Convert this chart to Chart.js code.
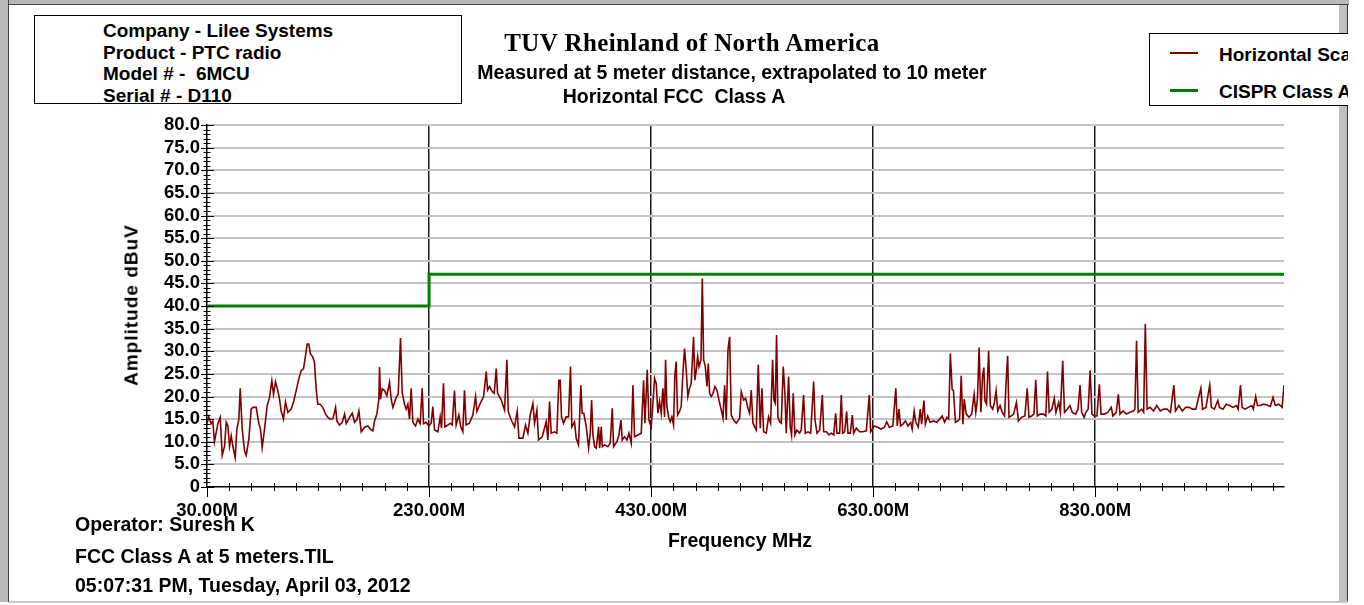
<!DOCTYPE html>
<html>
<head>
<meta charset="utf-8">
<script src="https://cdn.jsdelivr.net/npm/chart.js@4.4.1/dist/chart.umd.min.js"></script>
<style>
  body { margin: 0; width: 1364px; height: 605px; overflow: hidden; position: relative; background: #fff;
         font-family: "Liberation Sans", Arial, sans-serif; font-weight: bold; color: #000; }
  .abs { position: absolute; white-space: pre; line-height: 1; }
  .lbl { font-size: 19.5px; }
  .info { font-size: 19px; }
  #chart { position: absolute; left: 0; top: 0; }
  #info { position: absolute; left: 34px; top: 15px; width: 426px; height: 87px; border: 1px solid #000; overflow: hidden; background: #fff; }
  #legendClip { position: absolute; left: 1149px; top: 33px; width: 199px; height: 73px; overflow: hidden; }
  #legend { position: absolute; left: 0; top: 0; width: 260px; height: 71px; border: 1px solid #000; background: #fff; }
  .swatch { position: absolute; left: 20px; width: 28px; }
</style>
</head>
<body>
<div class="abs" style="left:0;top:0;width:1349px;height:4px;background:#b9b9b9;border-bottom:1px solid #444"></div>
<div class="abs" style="left:0;top:0;width:8px;height:602px;background:#b9b9b9;border-right:1px solid #444"></div>
<div class="abs" style="left:1339px;top:5px;width:8px;height:597px;background:#c0c0c0;border-right:1px solid #333"></div>
<div class="abs" style="left:9px;top:601px;width:1339px;height:2px;background:#c8c8c8"></div>

<canvas id="chart" width="1364" height="605"></canvas>

<div id="info">
  <div class="abs info" style="left:68px;top:5px">Company - Lilee Systems</div>
  <div class="abs info" style="left:68px;top:27px">Product - PTC radio</div>
  <div class="abs info" style="left:68px;top:48px">Model # -  6MCU</div>
  <div class="abs info" style="left:68px;top:70px">Serial # - D110</div>
</div>

<div class="abs" style="left:692px;top:30px;transform:translateX(-50%);font-family:'Liberation Serif','Times New Roman',serif;font-size:25px;letter-spacing:0.4px">TUV Rheinland of North America</div>
<div class="abs lbl" style="left:732px;top:63px;transform:translateX(-50%)">Measured at 5 meter distance, extrapolated to 10 meter</div>
<div class="abs lbl" style="left:674px;top:87px;transform:translateX(-50%)">Horizontal FCC  Class A</div>

<div id="legendClip"><div id="legend"></div></div>

<div class="abs" style="left:131px;top:305px;transform:translate(-50%,-50%) rotate(-90deg);font-size:19px;letter-spacing:1px">Amplitude dBuV</div>
<div class="abs lbl" style="left:740px;top:531px;transform:translateX(-50%)">Frequency MHz</div>

<div class="abs lbl" style="left:75px;top:515px">Operator: Suresh K</div>
<div class="abs lbl" style="left:75px;top:547px">FCC Class A at 5 meters.TIL</div>
<div class="abs lbl" style="left:75px;top:576px">05:07:31 PM, Tuesday, April 03, 2012</div>

<script>
// horizontal scan (MHz / dBuV)
const freqMHz = [
  30, 31.6, 33.7, 35.2, 36.7, 39.8, 41.9, 43.7, 45.8, 47.3, 48.8, 50.3, 51.8, 53.3, 55.4, 56.9, 58.7, 59.9, 61.7, 63.8,
  65.3, 67.7, 69.8, 71.3, 74.3, 76.7, 78.2, 79.7, 81.8, 84.2, 86.3, 88.4, 89.9, 91.7, 93.8, 95.3, 96.8, 98.9, 100.7, 102.8,
  105.8, 108.2, 110.3, 112.7, 114.8, 116.9, 118.7, 120.2, 121.7, 123.2, 125.3, 126.8, 128.3, 129.8, 132, 134.3, 136.8, 138.9, 141, 143.4,
  145.8, 147, 149.4, 151.8, 153.9, 155.4, 158.4, 160.8, 162.9, 165, 166.8, 168.9, 171.9, 174.9, 177, 179.4, 180.9, 183, 184.8, 185.4,
  186.3, 187.8, 189.9, 192, 194.4, 195.9, 197.4, 198.9, 200.4, 202.2, 204.3, 205.8, 207.9, 209.4, 210.9, 212.4, 213.9, 215.4, 217.8, 219.9,
  222, 223.8, 225, 227.4, 229.8,
  231.9, 233.4, 234.9, 237.9, 240, 241.2, 243, 244.2, 246.9, 249, 250.8, 252.9, 254.4, 256.8, 258.6, 260.4, 261.9, 263.4, 266.4, 269.4,
  271.9, 273.1, 276.1, 279.1, 281.5, 282.7, 284.5, 286.9, 288.7, 290.5, 291.7, 295, 298, 300.1, 301.3, 304, 307, 309.4, 310.9, 314.5,
  316.9, 319, 321.1, 323.5, 325, 327.1, 328.6, 331.9, 335.5, 337, 338.5, 340, 343, 345.1, 346.9, 348.1, 349.3, 351.1, 353.5, 355.6,
  357.4, 358.6, 361, 362.5, 364.6, 366.7, 367.9, 369.4, 371.6, 373.7, 375.2, 376.4, 377.6, 379.1, 380.6, 382.7, 383.6, 385.1, 386, 388.1,
  391.1, 393.2, 395, 396.2, 399.2, 401, 402.8, 404, 406.1, 408.2, 410, 412.1, 413.6, 415.1, 418.1, 421.1, 423.2, 424.4, 426.5, 428,
  430.1,
  431.6, 433.1, 434.6, 436.1, 437.6, 439.1, 440.6, 442.1, 443, 444.2, 446, 447.2, 448.7, 450.2, 451.4, 452.6, 453.8, 455.6, 457.1, 458.6,
  460.1, 461.6, 463.1, 464.6, 466.1, 468.2, 469.4, 470.7, 471.9, 473.1, 474.9, 476.1, 477.3, 478.8, 480.3, 481.5, 482.7, 484.2, 485.7, 487.5,
  489.3, 491.1, 493.2, 494.7, 496.2, 497.7, 499.2, 500.7, 502.2, 504.3, 506.7, 509.7, 511.2, 513.3, 515.1, 517.2, 518.7, 520.2, 521.7, 523.2,
  524.7, 526.5, 528.3, 529.8, 531.3, 533.7, 535.8, 537.6, 539.4, 540.6, 541.8, 543, 544.2, 545.7, 547.2, 549, 550.5, 551.7, 553.8, 555.3,
  556.5, 558, 559.5, 561.3, 563.7, 565.2, 567.3, 568.8, 571.3, 573.7, 576.4, 577.6, 579.4, 581.8, 584.2, 585.4, 587.8, 590.2, 592.3, 594.4,
  596.2, 597.4, 599.8, 601.3, 602.5, 604.3, 606.1, 607.3, 609.4, 611.2, 612.4, 614.8, 617.8, 620.8, 623.8, 626.5, 627.7,
  630.9, 634, 637, 640.1, 642.2, 644.6, 647.7, 650.4, 651.7, 653.2, 654.7, 656.8, 659, 661.4, 663.8, 665.1, 666.9, 668.4, 670.6, 672.4,
  673.6, 675.7, 677, 679.1, 681.2, 684.3, 687.3, 689.8, 692.2, 694.3, 696.5, 698, 699.5, 701.1, 702.3, 704.1, 706.2, 707.8, 709.3, 710.8,
  712, 713.8, 716.3, 718.7, 720.9, 722.4, 723.9, 725.4, 727, 728.5, 729.7, 730.6, 732.1, 734, 735.5, 737.6, 739.2, 740.7, 742.2, 744.3,
  746.2, 748.3, 749.8, 751.1, 752.3, 754.4, 756.5, 759, 760.8, 763.6, 766.6, 768.7, 770.3, 772.7, 774.8, 776.4, 777.9, 780.3, 783.4, 785.5,
  787, 788.5, 791, 793.1, 794.6, 797.1, 798.6, 800.7, 802.3, 804.7, 807.2, 809.3, 812.3, 814.5, 816.3, 817.8, 820, 821.5, 823.6, 825.4,
  827, 829.1, 831.5, 833.7, 835.2, 838.3, 841.3, 844.4, 845.9, 848.9, 850.8, 852.3, 855, 858.1, 861.1, 864.2, 865.7, 867.2, 868.7, 871.8,
  873.6, 875.1, 876.7, 879.4, 882.5, 885.5, 888.6, 891.6, 894.7, 897.7, 900.8, 902.3, 905.3, 908.4, 911.4, 914.5, 917.5, 920.6, 925.1, 926.7,
  929.7, 933.1, 934.6, 937.3, 940.4, 941.9, 945, 948, 951.1, 954.1, 957.2, 958.7, 960.8, 962.3, 964.8, 967.8, 970.9, 972.4, 974.5, 976.1,
  978.5, 981.5, 984.6, 987.7, 990.1, 992.2, 995.3, 998.3, 1000
];
const ampDbuV = [
  14, 15.5, 14, 14.6, 10, 14, 15.4, 7, 9, 14.3, 13.5, 9, 11.3, 9, 6.5, 12.8, 15, 21.8, 12.8, 8,
  7, 10.6, 17.2, 17.6, 17.6, 14, 12.8, 8.7, 12.8, 18, 19.8, 23.5, 20.5, 23.3, 21.3, 19.4, 16.8, 15, 18.8, 16.5,
  17.2, 19, 21.3, 23.9, 25.7, 26.1, 29, 31.6, 31.6, 29.4, 28.7, 27.6, 21.7, 18.3, 18.3, 17.6, 16.1, 15.4, 15, 15.1,
  17.6, 14.6, 13.7, 14.3, 16.1, 14, 15.4, 16.3, 14.3, 14.9, 16.8, 12.2, 13.2, 13.5, 12.8, 12.4, 14.6, 16.1, 19.4, 26.5,
  19.4, 21.7, 21.3, 20.2, 23.1, 19.4, 17.6, 18.7, 19.8, 20.5, 32.9, 20.9, 18.3, 17.2, 18.3, 15, 21.8, 14.3, 13.5, 15,
  14, 21.8, 14, 14.3, 13.5,
  14.1, 17.8, 12.6, 12.2, 15.5, 13, 22.9, 13.3, 13.7, 14.1, 13.7, 21.3, 13.7, 15.9, 13.3, 12.2, 21.4, 13.7, 14.1, 15.9,
  20, 16.7, 18.5, 20, 25.5, 21.4, 22.2, 21.1, 20.7, 26.2, 20.7, 19.2, 17, 28.1, 16.7, 14.8, 13.3, 16.7, 10.8, 10.8,
  13.7, 11.9, 15.9, 18.5, 14.1, 17, 10.4, 11.1, 14.4, 10.4, 18.9, 11.9, 12.2, 11.9, 23.6, 23.6, 15.5, 14.1, 15.5, 15.5,
  26.6, 13.3, 14.4, 10.8, 9.3, 22.5, 16.3, 16.3, 13.3, 8.6, 11.9, 19.2, 11.5, 8.9, 8.6, 13.3, 8.6, 13.3, 8.9, 9.3,
  8.9, 9.7, 17.4, 8.9, 10, 11.5, 14.8, 10.4, 11.1, 10.4, 11.9, 9.7, 22.5, 11.1, 11.5, 11.9, 23.6, 14.1, 25.9, 14.8,
  13.3,
  18.5, 24, 22.9, 16.3, 18.9, 16.3, 21.8, 15.5, 28.1, 17.8, 15.2, 14.4, 15.5, 13.7, 24.8, 27.7, 15.9, 16.7, 17.8, 25.1,
  30.6, 25.9, 20, 21.8, 22.9, 33.2, 23.6, 25.9, 28.8, 26.6, 28.1, 46.1, 28.1, 26.6, 22.2, 27.3, 20.7, 20, 20.7, 22.2,
  21.4, 19.2, 17, 15.2, 22.5, 14.8, 30.3, 33.2, 15.9, 14.8, 14.1, 15.2, 21.1, 19.2, 19.6, 17.4, 16.3, 21.4, 14.1, 13.3,
  12.6, 27, 13, 21.8, 12.2, 11.9, 15.5, 14.1, 28.1, 19.2, 18.5, 33.6, 15.5, 14.4, 14.1, 26.6, 20.7, 11.9, 24.4, 13.3,
  11.5, 20.7, 11.5, 12.6, 11.9, 12.6, 20.3, 11.9, 12.2, 11.9, 23.3, 14.8, 11.9, 12.6, 20.3, 12.2, 12.2, 11.5, 11.9, 11.5,
  16.3, 11.9, 11.9, 20.3, 11.9, 12.2, 16.7, 11.9, 11.9, 15.9, 11.9, 13, 12.2, 12.2, 12.4, 20.3, 12.2,
  13.5, 13.2, 12.8, 13.2, 14.4, 13.2, 13.5, 21.8, 13.5, 17.2, 13.5, 13.9, 14.6, 13.5, 14.3, 12.8, 16.8, 14.3, 13.2, 17.2,
  13.9, 19.1, 13.9, 15.7, 14.3, 14.6, 14.3, 15, 15.7, 14.3, 15.4, 15, 29.5, 21.6, 21.3, 14.3, 14.6, 15, 24.6, 13.9,
  19.4, 16.1, 15.4, 16.1, 20.5, 16.5, 19.4, 30.8, 16.5, 24.6, 26.4, 19.1, 18.3, 30.1, 18, 17.2, 18.7, 21.3, 16.8, 18,
  16.5, 15.7, 23.5, 29, 15.4, 15.7, 16.1, 18.7, 14.6, 15.4, 15.7, 21.8, 15.4, 15.7, 16.1, 23.7, 15.7, 16.1, 16.1, 15.7,
  25.5, 16.5, 17.2, 19.6, 16.5, 18.7, 16.5, 27.9, 16.5, 17.2, 18, 16.5, 16.1, 17.2, 22.5, 16.5, 15.4, 16.5, 17.2, 25.8,
  16.1, 15.7, 15.7, 22.7, 16.1, 16.1, 16.5, 17.6, 15.7, 16.5, 20.5, 16.1, 16.8, 16.1, 16.5, 16.8, 17.2, 32.3, 16.5, 17.2,
  16.5, 36, 17.2, 17.6, 16.8, 18, 16.8, 17.2, 17.2, 16.5, 22.5, 16.8, 18, 16.8, 17.6, 17.6, 17.2, 17.2, 21.8, 17.2,
  17.6, 22.5, 17.6, 17.2, 19.1, 17.6, 17.2, 18.3, 18, 17.6, 18, 17.2, 22.5, 17.6, 17.2, 17.6, 18, 17.2, 20, 18,
  18, 18.3, 18.1, 17.8, 19.8, 18, 18.3, 17.6, 22.5
];

// limit line (CISPR Class A, 10 m)
const limitFreqMHz = [30, 230, 230, 1000];
const limitDbuV = [40, 40, 47, 47];

const seriesNames = ["Horizontal Scan", "CISPR Class A"];
const seriesColors = ["#800000", "#008000"];
const majorFreqs = [30, 230, 430, 630, 830];
const minorStepMHz = 20;

const toPoints = (xs, ys) => xs.map((x, i) => ({ x: x, y: ys[i] }));
const isMajorFreq = (v) => majorFreqs.includes(Math.round(v));

// legend box (overflows the frame like the original)
const legend = document.getElementById("legend");
seriesNames.forEach((name, i) => {
  const cy = i === 0 ? 19 : 56;
  const sw = document.createElement("div");
  sw.className = "swatch";
  sw.style.top = (cy - (i === 0 ? 1 : 1.5)) + "px";
  sw.style.height = (i === 0 ? 1.5 : 3) + "px";
  sw.style.background = seriesColors[i];
  legend.appendChild(sw);
  const t = document.createElement("div");
  t.className = "abs info";
  t.style.left = "69px";
  t.style.top = (cy - 8) + "px";
  t.textContent = name;
  legend.appendChild(t);
});

const tickMarks = {
  id: "tickMarks",
  afterDraw(chart) {
    const { ctx, scales: { x, y } } = chart;
    ctx.save();
    ctx.strokeStyle = "#000";
    ctx.lineWidth = 1;
    x.ticks.forEach((t) => {
      const px = Math.round(x.getPixelForValue(t.value)) + 0.5;
      const major = isMajorFreq(t.value);
      ctx.beginPath();
      ctx.moveTo(px, x.top - (major ? 0 : 4));
      ctx.lineTo(px, x.top + (major ? 10 : 4));
      ctx.stroke();
    });
    y.ticks.forEach((t) => {
      const py = Math.round(y.getPixelForValue(t.value)) + 0.5;
      const major = Math.round(t.value) % 5 === 0;
      ctx.beginPath();
      ctx.moveTo(y.right - (major ? 6 : 3.5), py);
      ctx.lineTo(y.right + (major ? 7 : 3.5), py);
      ctx.stroke();
    });
    ctx.restore();
  },
};

const tickFont = { family: "'Liberation Sans', Arial, sans-serif", size: 18.5, weight: "bold" };

new Chart(document.getElementById("chart"), {
  type: "scatter",
  data: {
    datasets: [
      {
        label: seriesNames[0],
        data: toPoints(freqMHz, ampDbuV),
        showLine: true,
        borderColor: seriesColors[0],
        borderWidth: 1.6,
        pointRadius: 0,
        tension: 0,
      },
      {
        label: seriesNames[1],
        data: toPoints(limitFreqMHz, limitDbuV),
        showLine: true,
        borderColor: seriesColors[1],
        borderWidth: 3,
        pointRadius: 0,
        tension: 0,
      },
    ],
  },
  options: {
    responsive: false,
    animation: false,
    devicePixelRatio: 1,
    layout: { padding: { left: 0, top: 125, right: 80, bottom: 0 } },
    plugins: { legend: { display: false }, title: { display: false }, tooltip: { enabled: false } },
    scales: {
      x: {
        type: "linear",
        min: 30,
        max: 1000,
        afterFit: (s) => { s.height = 118; },
        // minor ticks every 20 MHz counted from 30 MHz
        afterBuildTicks: (s) => {
          const ticks = [];
          for (let v = s.min; v < s.max; v += minorStepMHz) ticks.push({ value: v });
          s.ticks = ticks;
        },
        border: { display: true, color: "#000", width: 1.5 },
        grid: {
          drawTicks: false,
          color: (c) => (c.tick && isMajorFreq(c.tick.value) && Math.round(c.tick.value) !== 30 ? "#1a1a1a" : "transparent"),
          lineWidth: 1.5,
        },
        ticks: {
          autoSkip: false,
          maxRotation: 0,
          padding: 13,
          color: "#000",
          font: tickFont,
          callback: (v) => (isMajorFreq(v) ? Math.round(v).toFixed(2) + "M" : ""),
        },
      },
      y: {
        min: 0,
        max: 80,
        afterFit: (s) => { s.width = 207; },
        border: { display: true, color: "#000", width: 1.5 },
        grid: {
          drawTicks: false,
          color: (c) => (c.tick && Math.round(c.tick.value) % 5 === 0 && c.tick.value > 0 ? "#c4c4c4" : "transparent"),
          lineWidth: 2,
        },
        ticks: {
          stepSize: 1,
          autoSkip: false,
          padding: 7,
          color: "#000",
          font: tickFont,
          callback: (v) => (Math.round(v) % 5 === 0 ? (v === 0 ? "0" : v.toFixed(1)) : ""),
        },
      },
    },
  },
  plugins: [tickMarks],
});
</script>
</body>
</html>
